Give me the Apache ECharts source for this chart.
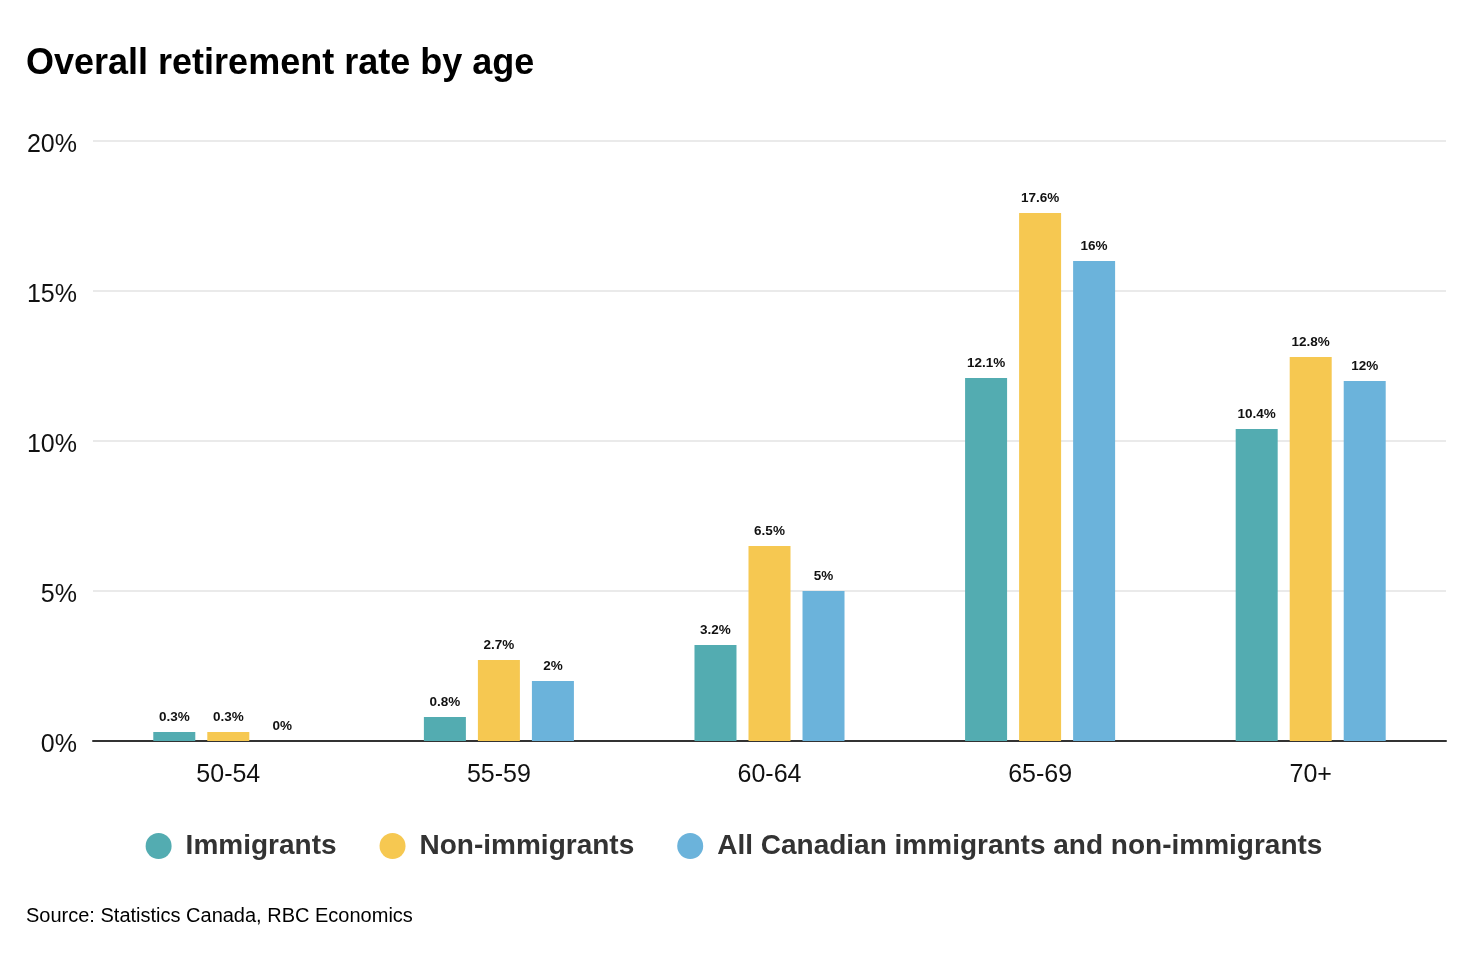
<!DOCTYPE html>
<html><head><meta charset="utf-8">
<script src="https://cdn.jsdelivr.net/npm/echarts@6/dist/echarts.min.js"></script>
<style>html,body{margin:0;padding:0;background:#fff}#c{width:1468px;height:960px}</style>
</head><body><div id="c"></div>
<script>
var categories = ['50-54','55-59','60-64','65-69','70+'];
var immigrants = [0.3, 0.8, 3.2, 12.1, 10.4];
var nonImmigrants = [0.3, 2.7, 6.5, 17.6, 12.8];
var allCanadians = [0, 2, 5, 16, 12];
var seriesNames = ['Immigrants','Non-immigrants','All Canadian immigrants and non-immigrants'];
var colors = ['#53ACB1','#F6C851','#6BB3DB'];
var FONT = '"Liberation Sans", Arial, Helvetica, sans-serif';
function mk(name, data, color){
  return {name:name, type:'bar', data:data, barWidth:42, barGap:'28.6%',
    itemStyle:{color:color},
    label:{show:true, position:'top', distance:8, formatter:function(p){return p.value+'%';},
      fontFamily:FONT, fontSize:13.5, fontWeight:'bold', color:'#111'}};
}
var chart = echarts.init(document.getElementById('c'));
chart.setOption({
  animation:false,
  color:colors,
  title:[{text:'Overall retirement rate by age', left:21, top:41,
    textStyle:{fontFamily:FONT, fontSize:36, fontWeight:'bold', color:'#000'}},
    {text:'Source: Statistics Canada, RBC Economics', left:21, top:901,
    textStyle:{fontFamily:FONT, fontSize:20, fontWeight:'normal', color:'#000'}}],
  legend:{data:seriesNames, left:'center', top:827, icon:'circle', itemWidth:26, itemHeight:26, itemGap:43,
    textStyle:{fontFamily:FONT, fontSize:28, fontWeight:'bold', color:'#333', padding:[0,0,0,9]}},
  grid:{left:93, right:22, top:141, bottom:219, containLabel:false},
  xAxis:{type:'category', data:categories,
    axisLine:{lineStyle:{color:'#333', width:2}}, axisTick:{show:false},
    axisLabel:{fontFamily:FONT, fontSize:25, color:'#111', margin:22}},
  yAxis:{type:'value', min:0, max:20, interval:5,
    axisLabel:{formatter:'{value}%', fontFamily:FONT, fontSize:25, color:'#111', margin:16, align:'right', verticalAlign:'top', lineHeight:8},
    axisLine:{show:false}, axisTick:{show:false},
    splitLine:{lineStyle:{color:'#e3e3e3', width:1.5}}},
  series:[mk(seriesNames[0], immigrants, colors[0]), mk(seriesNames[1], nonImmigrants, colors[1]), mk(seriesNames[2], allCanadians, colors[2])]
});
</script></body></html>
